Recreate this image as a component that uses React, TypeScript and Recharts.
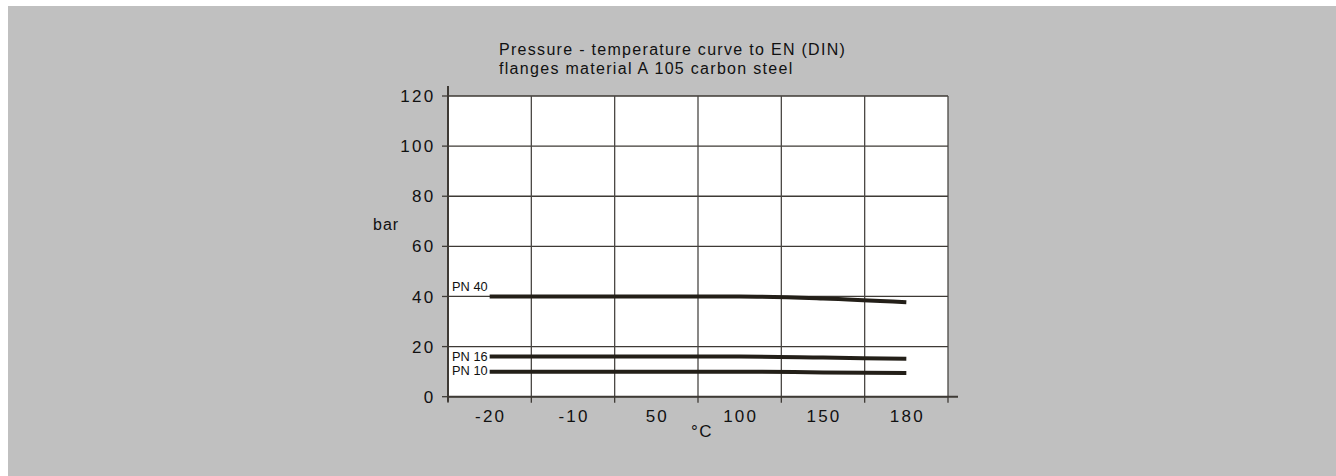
import { LineChart, Line, XAxis, YAxis, CartesianGrid, ReferenceLine } from 'recharts'

// temperature categories (°C) and pressure ratings (bar)
const temps = ['-20', '-10', '50', '100', '150', '180']
const pn40 = [40, 40, 40, 40, 39.2, 37.7]
const pn16 = [16, 16, 16, 16, 15.6, 15.1]
const pn10 = [10, 10, 10, 10, 9.7, 9.5]
const yTicks = [0, 20, 40, 60, 80, 100, 120]

const series = [
    { key: 'pn40', name: 'PN 40', values: pn40, dy: -5 },
    { key: 'pn16', name: 'PN 16', values: pn16, dy: 4 },
    { key: 'pn10', name: 'PN 10', values: pn10, dy: 3.5 },
]

// each category sits in the middle of its band
const data = temps.map((t, i) => {
    const row: any = { x: i + 0.5, t }
    series.forEach((s) => { row[s.key] = s.values[i] })
    return row
})
const xTicks = temps.flatMap((_, i) => [i, i + 0.5]).concat(temps.length)
const bandEdges = temps.map((_, i) => i + 1)

const FONT = '"Liberation Sans", Arial, sans-serif'
const INK = '#231f18'
const GRID = '#3e3a35'

const XTick = ({ x, y, payload }: any) => {
    const v = payload.value
    if (Number.isInteger(v)) {
        return <line x1={x} x2={x} y1={y} y2={y + 6} stroke={GRID} strokeWidth={1.3} />
    }
    return (
        <text x={x + 1} y={y + 25} textAnchor="middle" fontFamily={FONT} fontSize={17}
            letterSpacing={2.2} fill="#111">
            {temps[Math.floor(v)]}
        </text>
    )
}

const makeLabel = (name: string, dy: number) => ({ x, y, index }: any) => {
    if (index !== 0) return null
    return (
        <text x={x - 2} y={y + dy} textAnchor="end" fontFamily={FONT} fontSize={12.8} fill="#111">
            {name}
        </text>
    )
}

export default function App() {
    return (
        <div style={{ position: 'absolute', left: 0, top: 0, width: 1336, height: 476, fontFamily: FONT }}>
            <div style={{ position: 'absolute', left: 8, top: 6, right: 0, bottom: 0, background: '#c0c0c0' }} />
            <div style={{ position: 'absolute', left: 499, top: 39.5, fontSize: 16, lineHeight: '19.3px',
                letterSpacing: 1.3, color: '#111', whiteSpace: 'nowrap' }}>
                Pressure - temperature curve to EN (DIN)<br />
                flanges material A 105 carbon steel
            </div>
            <div style={{ position: 'absolute', left: 0, top: 0 }}>
                <LineChart width={1336} height={476} data={data}
                    margin={{ top: 96, right: 388, left: 0, bottom: 49.3 }}>
                    <CartesianGrid vertical={false} fill="#ffffff" stroke={GRID} strokeWidth={1.3} />
                    <XAxis dataKey="x" type="number" domain={[0, temps.length]} ticks={xTicks}
                        interval={0} tick={<XTick />} tickLine={false} axisLine={false}
                        tickSize={0} tickMargin={0} height={30}
                        label={{
                            content: ({ viewBox }: any) => (
                                <text x={viewBox.x + viewBox.width / 2 + 4} y={viewBox.y + 40.5}
                                    textAnchor="middle" fontFamily={FONT} fontSize={17} letterSpacing={1.5} fill="#111">
                                    °C
                                </text>
                            ),
                        }} />
                    <YAxis type="number" domain={[0, 120]} ticks={yTicks} interval={0} width={448}
                        axisLine={false} tickLine={{ stroke: GRID, strokeWidth: 1.3 }} tickSize={6} tickMargin={6.5}
                        tick={{ fontFamily: FONT, fontSize: 17, letterSpacing: 2.3, fill: '#111' }}
                        label={{
                            content: ({ viewBox }: any) => (
                                <text x={viewBox.x + viewBox.width - 75} y={viewBox.y + 134}
                                    fontFamily={FONT} fontSize={16} letterSpacing={1} fill="#111">
                                    bar
                                </text>
                            ),
                        }} />
                    {bandEdges.map((e) => (
                        <ReferenceLine key={e} x={e} stroke="#4a4744" strokeWidth={1.3} />
                    ))}
                    <ReferenceLine segment={[{ x: 0, y: 0 }, { x: temps.length * 1.02, y: 0 }]}
                        stroke={GRID} strokeWidth={2} ifOverflow="visible" />
                    <ReferenceLine segment={[{ x: 0, y: -2 }, { x: 0, y: 124 }]}
                        stroke={GRID} strokeWidth={2} ifOverflow="visible" />
                    {series.map((s) => (
                        <Line key={s.key} dataKey={s.key} type="monotone" stroke={INK} strokeWidth={4}
                            dot={false} isAnimationActive={false} label={makeLabel(s.name, s.dy)} />
                    ))}
                </LineChart>
            </div>
        </div>
    )
}
